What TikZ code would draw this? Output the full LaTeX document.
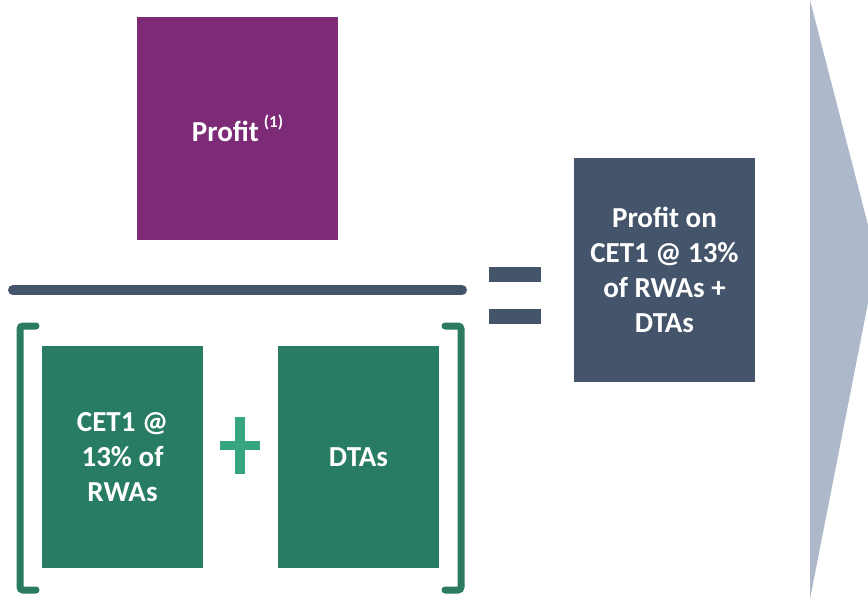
\documentclass[tikz,border=0pt]{standalone}
\usepackage{fontspec}
\setmainfont{Carlito}
\definecolor{purp}{HTML}{7D2A77}
\definecolor{slate}{HTML}{44546A}
\definecolor{gbox}{HTML}{287C63}
\definecolor{gplus}{HTML}{36A682}
\definecolor{gbrk}{HTML}{2A7B62}
\definecolor{arrowc}{HTML}{ADB9CA}
\begin{document}
\begin{tikzpicture}[x=1pt,y=-1pt,
  box/.style={draw=none,inner sep=0pt,align=center,text=white,
    font=\fontsize{29}{35}\selectfont\bfseries},
  brk/.style={draw=gbrk,line width=7pt,line cap=round,rounded corners=3pt},
  bar/.style={fill=slate,draw=none,inner sep=0pt}]
\useasboundingbox (0,0) rectangle (868,599);
% big arrow on the right
\fill[arrowc] (810,0) -- (868,225) -- (868,303) -- (810,599) -- cycle;
% numerator
\node[box,fill=purp,minimum width=201pt,minimum height=223pt] (profit) at (237.5,128.5) {Profit\,\raisebox{0.5em}{\fontsize{17}{17}\selectfont(1)}};
% fraction bar
\coordinate (fl) at (13,290);
\coordinate (fr) at (462,290);
\draw[slate,line width=10pt,line cap=round] (fl) -- (fr);
% denominator
\node[box,fill=gbox,minimum width=161pt,minimum height=222pt] (cet) at (122.5,457) {CET1 @\\13\% of\\RWAs};
\node[box,fill=gbox,minimum width=161pt,minimum height=222pt] (dta) at (358.5,457) {DTAs};
% plus sign
\fill[gplus] (235,417) rectangle (245,474);
\fill[gplus] (220,441) rectangle (260,450);
% brackets
\draw[brk] (36,326) -- (20,326) -- (20,590) -- (36,590);
\draw[brk] (445,326) -- (461,326) -- (461,590) -- (445,590);
% equals
\node[bar,minimum width=52pt,minimum height=15pt] (eq1) at (515,274) {};
\node[bar,minimum width=52pt,minimum height=15pt] (eq2) at (515,316.5) {};
% result
\node[box,fill=slate,minimum width=181pt,minimum height=224pt] (res) at (664.5,270) {Profit on\\CET1 @ 13\%\\of RWAs +\\DTAs};
\end{tikzpicture}
\end{document}
